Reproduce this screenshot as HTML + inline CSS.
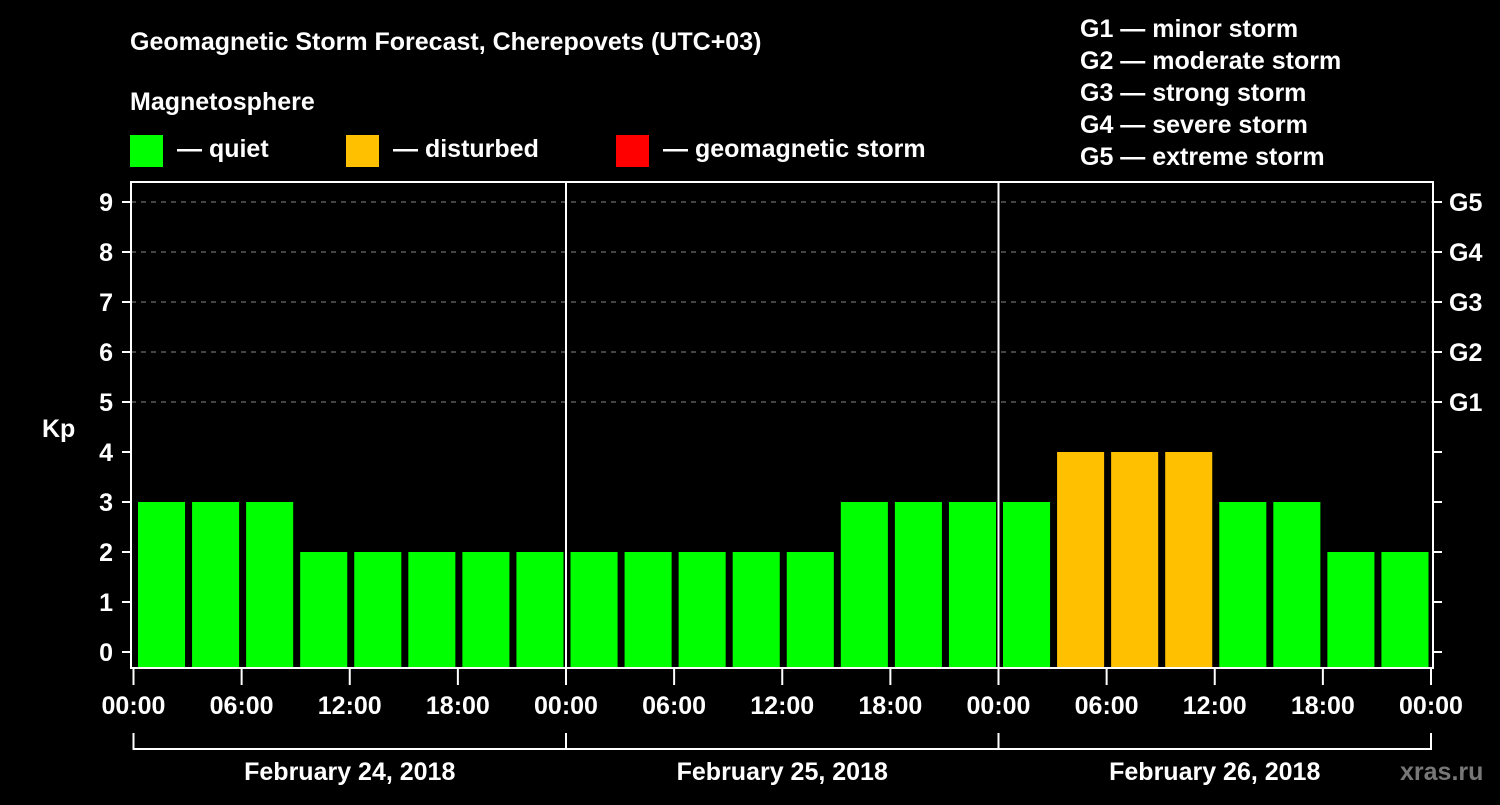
<!DOCTYPE html>
<html><head><meta charset="utf-8"><style>
body{margin:0;background:#000;width:1500px;height:800px;overflow:hidden}
svg text{font-family:"Liberation Sans",sans-serif;font-weight:bold;fill:#fff}
</style></head><body>
<svg id="c" width="1500" height="800">
<text x="130" y="50" font-size="25">Geomagnetic Storm Forecast, Cherepovets (UTC+03)</text>
<text x="130" y="110" font-size="25">Magnetosphere</text>
<rect x="130" y="135" width="33" height="32" fill="#00ff00"/>
<text x="177" y="157" font-size="25">— quiet</text>
<rect x="346" y="135" width="33" height="32" fill="#ffc000"/>
<text x="393" y="157" font-size="25">— disturbed</text>
<rect x="616" y="135" width="33" height="32" fill="#ff0000"/>
<text x="663" y="157" font-size="25">— geomagnetic storm</text>
<g font-size="25">
<text x="1080" y="37">G1 — minor storm</text>
<text x="1080" y="69">G2 — moderate storm</text>
<text x="1080" y="101">G3 — strong storm</text>
<text x="1080" y="133">G4 — severe storm</text>
<text x="1080" y="165">G5 — extreme storm</text>
</g>
<text x="42" y="437" font-size="25">Kp</text>
<text x="1400" y="780" font-size="25" fill="#777" style="fill:#777">xras.ru</text>
<g id="plot"></g>
</svg>
<script>
const kpValues=[3,3,3,2,2,2,2,2, 2,2,2,2,2,3,3,3, 3,4,4,4,3,3,2,2];
const dayLabels=["February 24, 2018","February 25, 2018","February 26, 2018"];
const hourLabels=["00:00","06:00","12:00","18:00"];
const gLabels=["G1","G2","G3","G4","G5"];
const yTicks=[0,1,2,3,4,5,6,7,8,9];
const NS="http://www.w3.org/2000/svg";
const g=document.getElementById('plot');
const X0=133.5,DAY=432.5,L=131,R=1433,T=182,B=668;
const x=h=>X0+h*DAY/24;
const y=v=>652-50*v;
function el(t,a,p){const e=document.createElementNS(NS,t);for(const k in a)e.setAttribute(k,a[k]);(p||g).appendChild(e);return e;}
// gridlines
yTicks.forEach(v=>{
 if(v>=5){const l=el('line',{x1:L,x2:R,y1:y(v),y2:y(v),stroke:'#888','stroke-dasharray':'5,5','stroke-width':1});
 
 }
 const t=el('line',{x1:122,x2:L,y1:y(v),y2:y(v),stroke:'#fff','stroke-width':2});
 
 
 const rt=el('line',{x1:R,x2:1442,y1:y(v),y2:y(v),stroke:'#fff','stroke-width':2});
 
 
 const tx=el('text',{x:113,y:y(v)+9,'font-size':25,'text-anchor':'end'});tx.textContent=v;
 
 
});
gLabels.forEach((s,i)=>{
 const tx=el('text',{x:1449,y:y(5+i)+9,'font-size':25});tx.textContent=s;
 
 
});
// bars
kpValues.forEach((v,i)=>{
 const c=v>=5?'#ff0000':(v>=4?'#ffc000':'#00ff00');
 const x1=x(i*3)+4.5,x2=x((i+1)*3)-2.5;
 const r=el('rect',{x:x1,y:y(v),width:x2-x1,height:B-y(v),fill:c});
 
 
});
// day separators
for(let d=1;d<3;d++){const l=el('line',{x1:x(d*24),x2:x(d*24),y1:T,y2:B,stroke:'#fff','stroke-width':2});
 
 }
// frame
const f=el('rect',{x:L,y:T,width:R-L,height:B-T,fill:'none',stroke:'#fff','stroke-width':2});


// x ticks
for(let d=0;d<3;d++){
 hourLabels.forEach((s,j)=>{
  const xx=x(d*24+j*6);
  const t=el('line',{x1:xx,x2:xx,y1:B,y2:685,stroke:'#fff','stroke-width':2});
  
  
  const tx=el('text',{x:xx,y:714,'font-size':25,'text-anchor':'middle'});tx.textContent=s;
  
  
 });
 const tx=el('text',{x:x(d*24+12),y:780,'font-size':25,'text-anchor':'middle'});tx.textContent=dayLabels[d];
 
 
}
const xe=x(72);
const t=el('line',{x1:xe,x2:xe,y1:B,y2:685,stroke:'#fff','stroke-width':2});


const te=el('text',{x:xe,y:714,'font-size':25,'text-anchor':'middle'});te.textContent=hourLabels[0];


const br=el('line',{x1:x(0),x2:xe,y1:749,y2:749,stroke:'#fff','stroke-width':2});


for(let d=0;d<=3;d++){const l=el('line',{x1:x(d*24),x2:x(d*24),y1:733,y2:750,stroke:'#fff','stroke-width':2});
 
 }
</script>
</body></html>
